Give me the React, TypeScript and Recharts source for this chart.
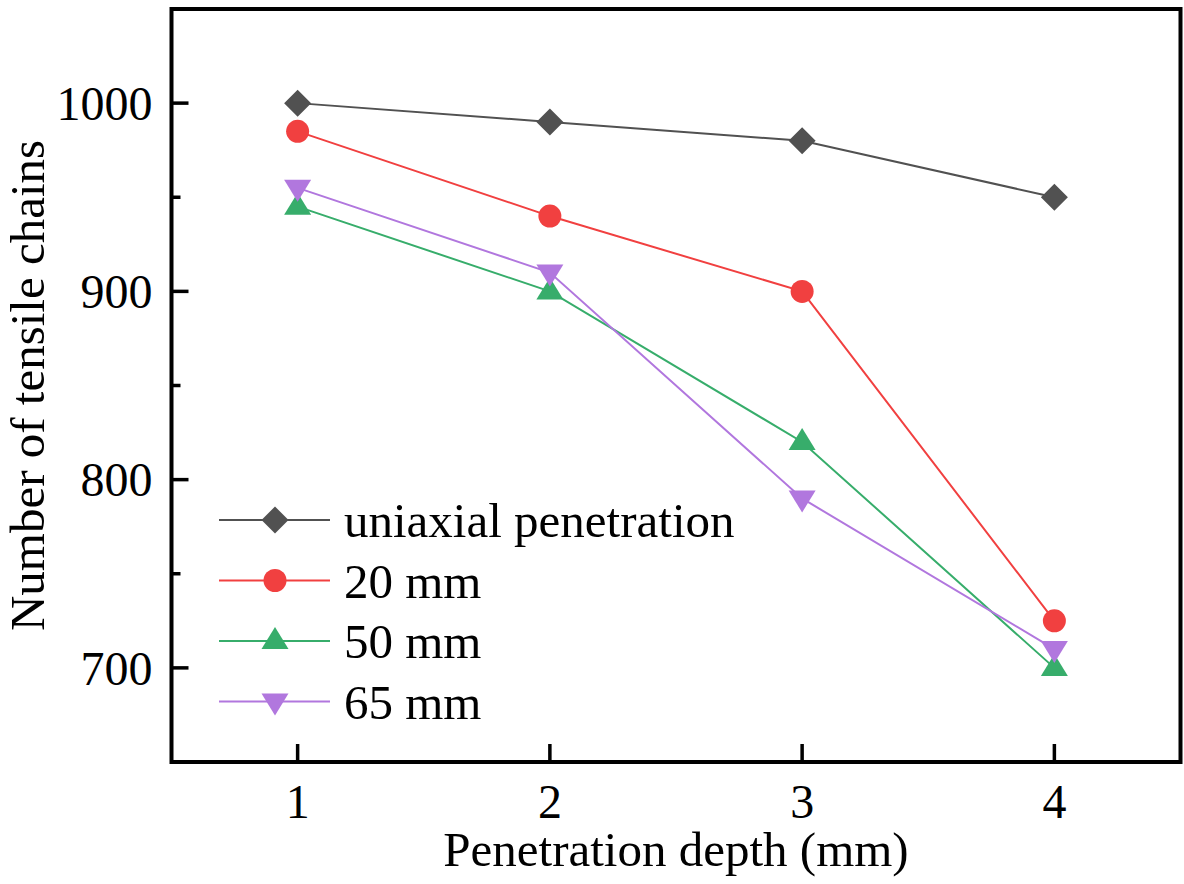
import React from 'react';
import { LineChart, Line, XAxis, YAxis, ReferenceArea, Legend } from 'recharts';

const depths = [1, 2, 3, 4];
const uniaxial = [1000, 990, 980, 950];
const mm20 = [985, 940, 900, 725];
const mm50 = [945, 900, 820, 700];
const mm65 = [955, 910, 790, 710];

const xTicks = [1, 2, 3, 4];
const yTicks = [700, 750, 800, 850, 900, 950, 1000];
const yMajor = [700, 800, 900, 1000];

const xTitle = 'Penetration depth (mm)';
const yTitle = 'Number of tensile chains';

const series = [
  { key: 'uni', name: 'uniaxial penetration', color: '#515151', shape: 'diamond' },
  { key: 's20', name: '20 mm', color: '#F14040', shape: 'circle' },
  { key: 's50', name: '50 mm', color: '#37AD6B', shape: 'up' },
  { key: 's65', name: '65 mm', color: '#B177DE', shape: 'down' },
];

const data = depths.map((d, i) => ({
  depth: d,
  uni: uniaxial[i],
  s20: mm20[i],
  s50: mm50[i],
  s65: mm65[i],
}));

const FONT = '"Liberation Serif", "Times New Roman", Times, serif';

function Marker({ shape, cx, cy, color }: any) {
  if (cx == null || cy == null) return null;
  switch (shape) {
    case 'diamond':
      return (
        <polygon
          points={`${cx},${cy - 13.5} ${cx + 13.5},${cy} ${cx},${cy + 13.5} ${cx - 13.5},${cy}`}
          fill={color}
        />
      );
    case 'circle':
      return <circle cx={cx} cy={cy} r={11.5} fill={color} />;
    case 'up':
      return (
        <polygon
          points={`${cx},${cy - 14} ${cx + 13.5},${cy + 8} ${cx - 13.5},${cy + 8}`}
          fill={color}
        />
      );
    case 'down':
      return (
        <polygon
          points={`${cx},${cy + 14} ${cx + 13.5},${cy - 8} ${cx - 13.5},${cy - 8}`}
          fill={color}
        />
      );
    default:
      return null;
  }
}

const Y_MARGIN = 19;
function YTick(props: any) {
  const { x, y, payload } = props;
  const axisX = x + Y_MARGIN;
  const major = yMajor.includes(payload.value);
  return (
    <g>
      <line x1={axisX} x2={axisX + (major ? 17 : 9)} y1={y} y2={y} stroke="#000" strokeWidth={3.5} />
      {major && (
        <text x={x} y={y} dy="0.35em" textAnchor="end" fontSize={48} fontFamily={FONT} fill="#000">
          {payload.value}
        </text>
      )}
    </g>
  );
}

const X_MARGIN = 22;
function XTick(props: any) {
  const { x, y, payload } = props;
  const axisY = y - X_MARGIN;
  return (
    <g>
      <line x1={x} x2={x} y1={axisY} y2={axisY - 18} stroke="#000" strokeWidth={3.5} />
      <text x={x} y={y} dy="0.71em" textAnchor="middle" fontSize={48} fontFamily={FONT} fill="#000">
        {payload.value}
      </text>
    </g>
  );
}

function XTitle(props: any) {
  const vb = props.viewBox;
  return (
    <text x={vb.x + vb.width / 2} y={vb.y + 104} textAnchor="middle" fontSize={49} fontFamily={FONT} fill="#000">
      {xTitle}
    </text>
  );
}

function YTitle(props: any) {
  const vb = props.viewBox;
  const x = vb.x + 44;
  const y = vb.y + vb.height / 2;
  return (
    <text x={x} y={y} transform={`rotate(-90, ${x}, ${y})`} textAnchor="middle" fontSize={49} fontFamily={FONT} fill="#000">
      {yTitle}
    </text>
  );
}

function LegendContent() {
  return (
    <svg width={580} height={250} style={{ display: 'block', overflow: 'visible' }}>
      {series.map((s, i) => {
        const my = 40 + i * 60.5;
        return (
          <g key={s.key}>
            <line x1={19} x2={130} y1={my} y2={my} stroke={s.color} strokeWidth={2} />
            <Marker shape={s.shape} cx={75} cy={my} color={s.color} />
            <text x={144} y={my + 17} fontSize={49} fontFamily={FONT} fill="#000">
              {s.name}
            </text>
          </g>
        );
      })}
    </svg>
  );
}

export default function App() {
  return (
    <div style={{ position: 'absolute', top: 0, left: 0, width: 1184, height: 884, background: '#fff', overflow: 'hidden' }}>
      <LineChart width={1184} height={884} data={data} margin={{ top: 9, right: 3.5, left: 0, bottom: 0 }}>
        <XAxis
          dataKey="depth"
          type="number"
          domain={[0.5, 4.5]}
          ticks={xTicks}
          allowDataOverflow
          axisLine={false}
          tickLine={false}
          tickSize={0}
          tickMargin={X_MARGIN}
          height={122}
          tick={<XTick />}
          interval={0}
          label={{ content: <XTitle /> } as any}
        />
        <YAxis
          type="number"
          domain={[650, 1050]}
          ticks={yTicks}
          allowDataOverflow
          axisLine={false}
          tickLine={false}
          tickSize={0}
          tickMargin={Y_MARGIN}
          width={171.5}
          tick={<YTick />}
          interval={0}
          label={{ content: <YTitle /> } as any}
        />
        <ReferenceArea
          x1={0.5}
          x2={4.5}
          y1={650}
          y2={1050}
          fill="none"
          fillOpacity={0}
          stroke="#000"
          strokeWidth={4}
          ifOverflow="visible"
        />
        {series.map((s) => (
          <Line
            key={s.key}
            dataKey={s.key}
            name={s.name}
            stroke={s.color}
            strokeWidth={2}
            isAnimationActive={false}
            dot={(p: any) => <Marker key={`${s.key}-${p.index}`} shape={s.shape} cx={p.cx} cy={p.cy} color={s.color} />}
            activeDot={false}
          />
        ))}
        <Legend
          layout="vertical"
          verticalAlign="middle"
          align="center"
          content={<LegendContent />}
          wrapperStyle={{ position: 'absolute', left: 200, top: 480, right: 'auto', bottom: 'auto', width: 580, height: 250 }}
        />
      </LineChart>
    </div>
  );
}
